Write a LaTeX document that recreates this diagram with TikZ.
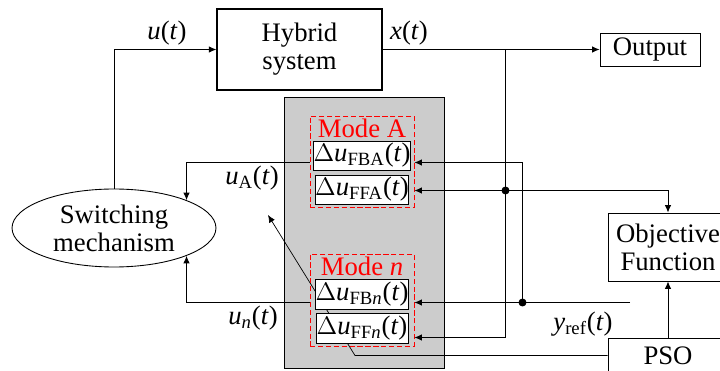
\documentclass[tikz,border=0pt]{standalone}
\usepackage{fontspec}
\setmainfont{Liberation Serif}
\usetikzlibrary{arrows.meta,backgrounds,shapes.geometric}

\newcommand{\vi}[1]{\textit{#1}}

\tikzset{
  blk/.style={draw,fill=white,align=center,inner sep=1pt},
  sigbox/.style={draw,fill=white,minimum width=1.84cm,minimum height=0.58cm,inner sep=0pt},
  modebox/.style={draw=red,dash pattern=on 3pt off 1.5pt,minimum width=2.08cm,minimum height=1.82cm,inner sep=0pt},
  lbl/.style={inner sep=0pt},
}

\begin{document}
\begin{tikzpicture}[x=0.02cm,y=-0.02cm,line width=0.5pt,
    >={Latex[length=1.5mm,width=1.3mm]},
    font=\fontsize{15.2}{16}\selectfont]
  \useasboundingbox (0,0) rectangle (720,371);

  % blocks
  \node[blk,minimum width=3.3cm,minimum height=1.62cm,line width=0.7pt] (hyb) at (299.5,49.5) {Hybrid\\system};
  \node[blk,minimum width=2cm,minimum height=0.66cm] (out) at (650,49.5) {Output};
  \node[blk,ellipse,minimum width=4.08cm,minimum height=1.56cm] (sw) at (114,228) {Switching\\mechanism};
  \node[blk,minimum width=2.4cm,minimum height=1.36cm] (obj) at (668,247) {Objective\\Function};
  \node[blk,minimum width=2.4cm,minimum height=0.68cm] (pso) at (668,355.5) {PSO};

  % modes
  \node[modebox] (modeA) at (362,161.5) {};
  \node[red,lbl] at (362,128) {Mode A};
  \node[sigbox] (FBA) at (362,155.5) {$\Delta$\vi{u}\textsubscript{FBA}(\vi{t})};
  \node[sigbox] (FFA) at (362,189.5) {$\Delta$\vi{u}\textsubscript{FFA}(\vi{t})};

  \node[modebox,minimum height=1.84cm] (modeN) at (362,300) {};
  \node[red,lbl] at (362,266.5) {Mode \vi{n}};
  \node[sigbox,minimum height=0.6cm] (FBn) at (362,294) {$\Delta$\vi{u}\textsubscript{FB\vi{n}}(\vi{t})};
  \node[sigbox,minimum height=0.6cm] (FFn) at (362,328) {$\Delta$\vi{u}\textsubscript{FF\vi{n}}(\vi{t})};

  % junctions and free ends
  \coordinate (xsplit) at (505.5,49.5);
  \coordinate (xbot) at (505.5,337.5);
  \coordinate (dotx) at (505.5,190.5);
  \coordinate (doty) at (522.5,302.5);
  \coordinate (ytop) at (522.5,162.5);
  \coordinate (yref) at (630,302.5);
  \coordinate (bend) at (355,355.5);
  \coordinate (tip) at (268,215);

  \begin{scope}[on background layer]
    \draw[fill=black!20] (284,97) rectangle (444,368);
    \draw[->] (pso.west) -- (bend) -- (tip);
  \end{scope}

  % signals
  \draw[->] (sw.north) |- (hyb.west);
  \draw[->] (hyb.east) -- (out.west);
  \draw[->] (xsplit) -- (xbot) -- (modeN.east |- xbot);
  \draw[<->] (modeA.east |- dotx) -| (obj.north);
  \draw[->] (yref) -- (modeN.east |- doty);
  \draw[->] (doty) |- (modeA.east |- ytop);
  \draw[->] (modeA.west |- ytop) -| (sw.21);
  \draw[->] (modeN.west |- doty) -| (sw.-21);
  \draw[->] (pso) -- (obj);
  \fill (dotx) circle[radius=0.08cm];
  \fill (doty) circle[radius=0.08cm];

  % labels
  \node[lbl] (lu) at (167,33) {\vi{u}(\vi{t})};
  \node[lbl] (lx) at (409,33) {\vi{x}(\vi{t})};
  \node[lbl] (luA) at (252,178) {\vi{u}\textsubscript{A}(\vi{t})};
  \node[lbl] (lun) at (253,318) {\vi{u}\textsubscript{\vi{n}}(\vi{t})};
  \node[lbl] (lyref) at (583,324) {\vi{y}\textsubscript{ref}(\vi{t})};
\end{tikzpicture}
\end{document}
